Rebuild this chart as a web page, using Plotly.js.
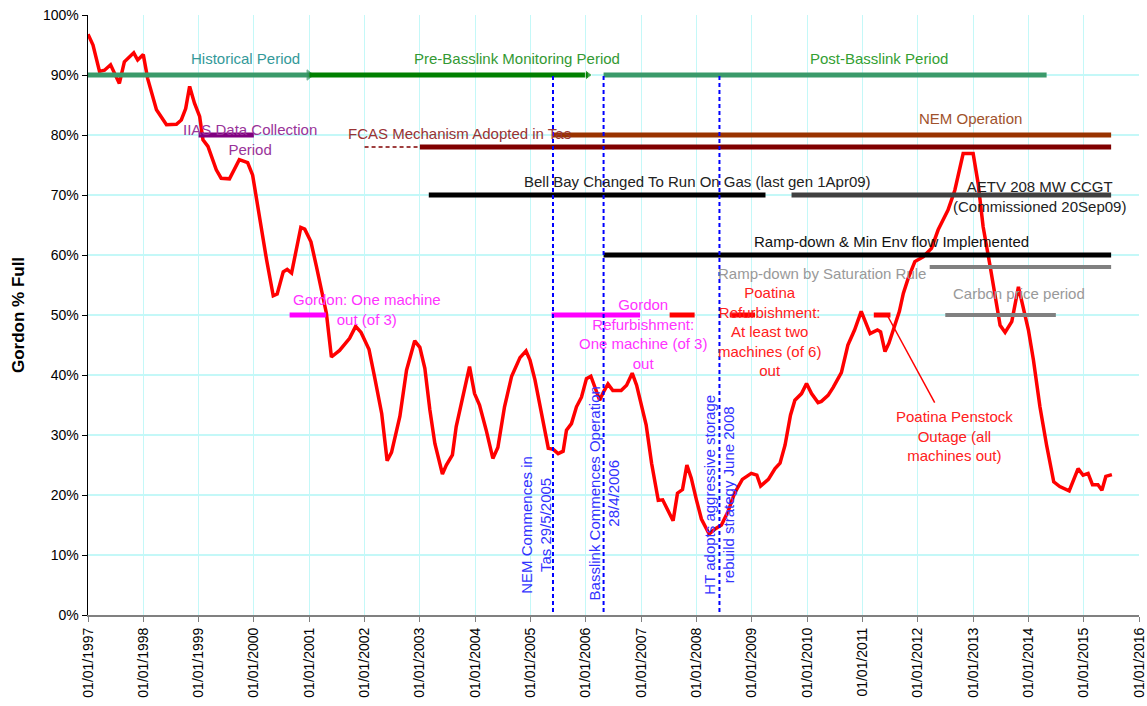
<!DOCTYPE html>
<html><head><meta charset="utf-8">
<script src="https://cdn.plot.ly/plotly-3.0.1.min.js"></script>
<style>html,body{margin:0;padding:0;background:#fff}#chart{width:1147px;height:706px}</style>
</head><body><div id="chart"></div>
<script>
// ---- Gordon storage (% full) ----
const storageDates = [
'1997-01-01','1997-02-03','1997-03-18','1997-04-20','1997-05-30','1997-06-25','1997-07-27','1997-08-29','1997-10-30','1997-11-25',
'1998-01-01','1998-01-30','1998-03-29','1998-06-03','1998-08-08','1998-09-09','1998-10-08','1998-11-03','1998-12-05',
'1999-01-08','1999-01-30','1999-03-04','1999-04-28','1999-05-30','1999-07-24','1999-09-27','1999-11-21','1999-12-24',
'2000-01-26','2000-03-25','2000-05-08','2000-06-03','2000-07-13','2000-08-08','2000-09-06','2000-10-08','2000-11-06','2000-12-02',
'2001-01-12','2001-02-17','2001-03-22','2001-04-24','2001-05-27','2001-07-20','2001-09-24','2001-11-03','2001-12-09',
'2002-01-30','2002-03-08','2002-04-24','2002-05-30','2002-06-28','2002-08-22','2002-10-05','2002-11-28',
'2003-01-01','2003-02-03','2003-03-08','2003-04-10','2003-05-30','2003-06-25','2003-08-04','2003-08-29','2003-10-12','2003-11-25','2003-12-28',
'2004-01-30','2004-03-14','2004-04-27','2004-05-30','2004-07-13','2004-08-29','2004-10-23','2004-12-02','2004-12-28',
'2005-01-30','2005-03-08','2005-04-28','2005-05-31','2005-07-02','2005-08-04','2005-08-26','2005-09-28','2005-10-31','2005-12-03',
'2006-01-05','2006-02-03','2006-03-08','2006-04-02','2006-04-28','2006-05-27','2006-06-28','2006-08-22','2006-09-27','2006-11-03','2006-12-02',
'2007-01-05','2007-02-03','2007-03-11','2007-04-24','2007-05-23','2007-06-28','2007-07-31','2007-08-29','2007-10-01','2007-10-30','2007-11-28',
'2008-01-01','2008-02-03','2008-03-25','2008-05-01','2008-06-14','2008-07-27','2008-09-09','2008-10-30','2008-12-28',
'2009-02-03','2009-02-28','2009-04-20','2009-06-03','2009-07-06','2009-08-08','2009-09-13','2009-10-12','2009-11-25','2009-12-28',
'2010-01-30','2010-03-14','2010-04-05','2010-05-19','2010-06-21','2010-08-15','2010-09-27','2010-11-10','2010-12-24',
'2011-02-21','2011-04-10','2011-05-01','2011-05-30','2011-06-25','2011-07-24','2011-09-02','2011-09-28','2011-10-30','2011-12-13',
'2012-02-06','2012-04-01','2012-05-15','2012-07-19','2012-09-02','2012-10-27',
'2013-01-01','2013-02-03','2013-03-08','2013-04-24','2013-05-27','2013-06-28','2013-07-31','2013-09-13','2013-10-27','2013-11-29',
'2014-01-01','2014-02-03','2014-03-18','2014-05-01','2014-06-17','2014-07-27','2014-09-27','2014-11-25','2014-12-28',
'2015-01-30','2015-02-28','2015-04-05','2015-05-01','2015-05-27','2015-07-06'
];
const gordonPctFull = [
96.8,95.0,90.6,90.8,91.7,90.3,88.6,92.2,93.7,92.5,
93.4,89.4,84.2,81.7,81.8,82.5,84.4,88.1,85.3,
83.1,79.2,78.1,74.2,72.8,72.7,75.9,75.4,73.3,
68.1,59.2,53.2,53.5,57.2,57.6,57.0,61.4,64.6,64.3,
62.2,58.1,54.2,50.3,43.0,44.1,46.1,48.1,47.1,
44.3,39.7,33.6,25.7,27.1,33.1,40.8,45.7,
44.6,41.1,34.2,28.6,23.5,25.0,26.7,31.4,36.4,41.4,36.9,
35.0,30.8,26.1,27.9,34.7,39.8,42.9,44.0,42.5,
39.2,34.7,27.8,27.6,26.9,27.3,30.8,31.9,34.7,36.3,
39.4,39.8,37.5,35.8,37.2,38.5,37.4,37.4,38.3,40.3,38.3,
34.4,31.7,25.3,19.1,19.2,17.2,15.7,20.3,20.9,25.0,22.8,
19.2,16.0,13.5,14.3,15.0,17.2,20.3,22.6,23.6,
23.3,21.5,22.6,24.4,25.3,28.3,33.3,35.8,36.9,38.6,
36.9,35.4,35.6,36.6,37.9,40.4,45.0,47.5,50.6,
46.9,47.5,47.2,43.9,45.3,47.5,50.6,53.6,56.1,58.9,
59.7,61.1,64.2,67.5,70.8,76.9,
76.9,71.9,64.7,58.0,53.0,48.3,47.1,48.9,54.7,51.4,
47.5,42.5,34.7,28.3,22.2,21.4,20.7,24.4,23.3,
23.6,21.7,21.7,20.8,23.1,23.4
];

// ---- Event / period bars ----
const barLabels = ['Historical Period','Pre-Basslink Monitoring Period','Post-Basslink Period','NEM Operation',
 'FCAS Mechanism Adopted in Tas','FCAS (lead-in)','IIAS Data Collection Period','Bell Bay Changed To Run On Gas',
 'AETV 208 MW CCGT','Ramp-down & Min Env flow Implemented','Ramp-down by Saturation Rule','Carbon price period',
 'Gordon: One machine out','Gordon Refurbishment','Poatina Refurbishment (a)','Poatina Refurbishment (b)','Poatina Penstock Outage'];
const barStart = ['1997-01-01','2001-01-01','2006-04-28','2005-05-29','2003-01-01','2002-01-01','1999-01-01','2003-03-01',
 '2009-09-20','2006-04-28','2012-03-20','2012-07-01','2000-08-24','2005-05-20','2007-07-08','2008-08-08','2011-03-17'];
const barEnd = ['2001-01-01','2006-01-13','2014-05-01','2015-07-01','2015-07-01','2003-01-01','2000-01-01','2009-04-01',
 '2015-07-01','2015-07-01','2015-07-01','2014-07-01','2001-04-22','2006-12-25','2007-12-20','2009-01-22','2011-07-05'];
const barLevel = [90,90,90,80,78,78,80,70,70,60,58,50,50,50,50,50,50];

// ---- Key dates (vertical markers) ----
const keyDateLabels = ['NEM Commences in Tas 29/5/2005','Basslink Commences Operation 28/4/2006','HT adopts aggressive storage rebuild strategy June 2008'];
const keyDates = ['2005-05-29','2006-04-28','2008-06-01'];
const keyDateSpan = [0.5, 90];

// ---- Penstock leader line ----
const leaderX = ['2011-06-13','2012-04-22'];
const leaderY = [50, 35.4];

// ---- styles ----
const barStyle = [
 {color:'#3A9A6A', width:5, arrow:'#2E8B57'},
 {color:'#008000', width:5, arrow:'#008000'},
 {color:'#3A9A6A', width:5},
 {color:'#993300', width:5},
 {color:'#800000', width:5},
 {color:'#800000', width:1.5, dash:'4px,3px'},
 {color:'#800080', width:5},
 {color:'#000000', width:5},
 {color:'#404040', width:5},
 {color:'#000000', width:5},
 {color:'#808080', width:4},
 {color:'#808080', width:4},
 {color:'#FF00FF', width:5},
 {color:'#FF00FF', width:5},
 {color:'#FF0000', width:5},
 {color:'#FF0000', width:5},
 {color:'#FF0000', width:5}
];

const traces = [];
traces.push({x:storageDates, y:gordonPctFull, type:'scatter', mode:'lines',
  line:{color:'#FF0000', width:3.5}, name:'Gordon % Full', hoverinfo:'x+y'});

barLabels.forEach((lab,i)=>{
  const s = barStyle[i];
  const t = {x:[barStart[i], barEnd[i]], y:[barLevel[i], barLevel[i]], type:'scatter',
    mode: s.arrow ? 'lines+markers' : 'lines', name:lab,
    line:{color:s.color, width:s.width, dash:s.dash||'solid'}};
  if (s.arrow) t.marker = {symbol:'triangle-right', size:[0,9], color:s.arrow};
  traces.push(t);
});

keyDates.forEach((d,i)=>{
  traces.push({x:[d,d], y:keyDateSpan, type:'scatter', mode:'lines', name:keyDateLabels[i],
    line:{color:'#0000FF', width:2, dash:'4px,3px'}});
});

traces.push({x:leaderX, y:leaderY, type:'scatter', mode:'lines', name:'leader',
  line:{color:'#FF0000', width:1.5}});

const F = 'Liberation Sans, Arial, sans-serif';
function ann(text, x, y, color, extra){
  return Object.assign({text:text, x:x, y:y, xref:'x', yref:'y', showarrow:false,
    xanchor:'center', yanchor:'middle', font:{family:F, size:15, color:color}}, extra||{});
}
const annotations = [
  ann('Historical Period','1999-11-04',92.8,'#339999'),
  ann('Pre-Basslink Monitoring Period','2004-10-02',92.8,'#339933'),
  ann('Post-Basslink Period','2011-04-22',92.8,'#33A033'),
  ann('NEM Operation','2012-12-13',82.8,'#A0522D'),
  ann('FCAS Mechanism Adopted in Tas','2003-09-20',80.3,'#993333'),
  ann('IIAS Data Collection<br>Period','1999-12-07',79.3,'#993399'),
  ann('Bell Bay Changed To Run On Gas (last gen 1Apr09)','2008-01-06',72.2,'#222222'),
  ann('AETV 208 MW CCGT<br>(Commissioned 20Sep09)','2014-03-17',69.8,'#222222'),
  ann('Ramp-down &amp; Min Env flow Implemented','2011-07-11',62.2,'#111111'),
  ann('Ramp-down by Saturation Rule','2010-04-10',56.9,'#999999'),
  ann('Carbon price period','2013-11-02',53.6,'#999999'),
  ann('Gordon: One machine<br>out (of 3)','2002-01-18',51.0,'#FF33FF'),
  ann('Gordon<br>Refurbishment:<br>One machine (of 3)<br>out','2007-01-14',46.9,'#FF33FF'),
  ann('Poatina<br>Refurbishment:<br>At least two<br>machines (of 6)<br>out','2009-04-28',47.3,'#FF2020'),
  ann('Poatina Penstock<br>Outage (all<br>machines out)','2012-08-28',29.8,'#FF2020'),
  ann('NEM Commences in<br>Tas 29/5/2005','2005-02-04',15.0,'#3333FF',{textangle:-90}),
  ann('Basslink Commences Operation<br>28/4/2006','2006-05-05',20.2,'#3333FF',{textangle:-90}),
  ann('HT adopts aggressive storage<br>rebuild strategy June 2008','2008-05-27',20.0,'#3333FF',{textangle:-90})
];

const GRID = '#C4F8F8';
const layout = {
  width:1147, height:706,
  margin:{l:88, r:8, t:15, b:91},
  paper_bgcolor:'#FFFFFF', plot_bgcolor:'#FFFFFF',
  showlegend:false,
  font:{family:F, size:14, color:'#000'},
  xaxis:{type:'date', range:['1997-01-01','2016-01-01'], dtick:'M12', tick0:'1997-01-01',
    tickformat:'%d/%m/%Y', tickangle:-90, tickfont:{family:F, size:14, color:'#000'},
    showgrid:true, gridcolor:GRID, gridwidth:1.2,
    showline:true, linecolor:'#808080', linewidth:2, ticks:'outside', ticklen:5, tickcolor:'#808080',
    zeroline:false, mirror:false},
  yaxis:{type:'linear', range:[0,100], tickmode:'linear', tick0:0, dtick:10, ticksuffix:'%',
    tickfont:{family:F, size:14, color:'#000'},
    showgrid:true, gridcolor:GRID, gridwidth:1.2,
    showline:true, linecolor:'#000', linewidth:1.5, ticks:'outside', ticklen:5, tickcolor:'#000',
    zeroline:false,
    title:{text:'<b>Gordon % Full</b>', font:{family:F, size:17, color:'#000'}, standoff:14}},
  annotations:annotations
};
Plotly.newPlot('chart', traces, layout, {displayModeBar:false, staticPlot:true});
</script></body></html>
